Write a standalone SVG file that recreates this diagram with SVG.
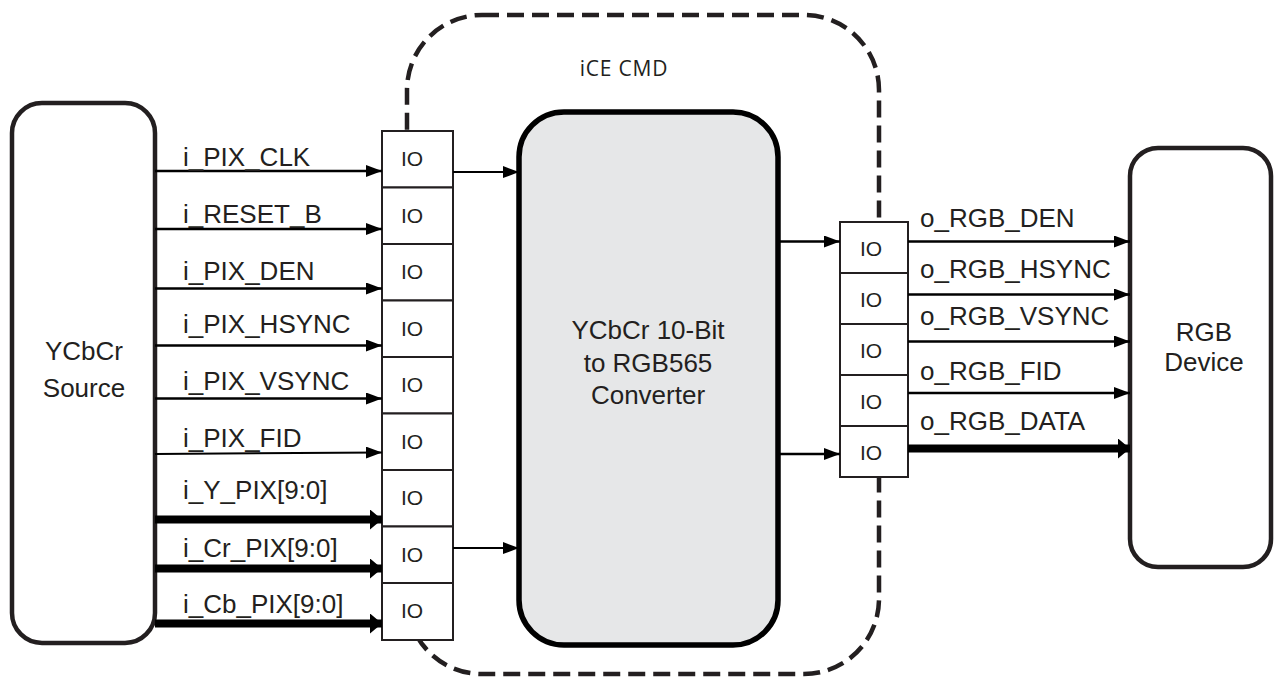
<svg xmlns="http://www.w3.org/2000/svg" width="1275" height="677" viewBox="0 0 1275 677">
<defs>
<style>
.lbl{font-family:"Liberation Sans",Arial,sans-serif;font-size:26px;fill:#231f20}
.io{font-family:"Liberation Sans",Arial,sans-serif;font-size:21px;fill:#231f20}
.blk{font-family:"Liberation Sans",Arial,sans-serif;font-size:26px;fill:#231f20;text-anchor:middle}
.iob{fill:#fff;stroke:#231f20;stroke-width:2}
.thin{stroke:#000;stroke-width:2.6;fill:none;marker-end:url(#ah)}
.thin2{stroke:#000;stroke-width:2;fill:none;marker-end:url(#ah)}
.thick{stroke:#000;stroke-width:8;fill:none;marker-end:url(#ahb)}
</style>
<marker id="ah" markerUnits="userSpaceOnUse" markerWidth="16" markerHeight="12" refX="16" refY="6" orient="auto"><path d="M0,0 L16,6 L0,12 z" fill="#000"/></marker>
<marker id="ahb" markerUnits="userSpaceOnUse" markerWidth="12" markerHeight="20" refX="12" refY="10" orient="auto"><path d="M0,0 L12,10 L0,20 z" fill="#000"/></marker>
</defs>
<rect width="1275" height="677" fill="#fff"/>

<g id="ice-cmd">
<rect x="407" y="15" width="472" height="659" rx="75" ry="75" fill="none" stroke="#231f20" stroke-width="4.5" stroke-dasharray="17 8"/>
<text x="624" y="76" text-anchor="middle" style="font-family:'Open Sans',sans-serif;font-size:21px;letter-spacing:0.8px;fill:#231f20">iCE CMD</text>
</g>

<g id="ycbcr-source">
<rect x="12" y="103" width="143" height="540" rx="30" ry="30" fill="#fff" stroke="#231f20" stroke-width="4.5"/>
<text class="blk" x="84" y="360">YCbCr</text>
<text class="blk" x="84" y="397">Source</text>
</g>

<g id="converter">
<rect x="519" y="112" width="259" height="533" rx="45" ry="45" fill="#e6e7e8" stroke="#000" stroke-width="5.5"/>
<text class="blk" x="648" y="339">YCbCr 10-Bit</text>
<text class="blk" x="648" y="372">to RGB565</text>
<text class="blk" x="648" y="404">Converter</text>
</g>

<g id="rgb-device">
<rect x="1130" y="148" width="141" height="419" rx="28" ry="28" fill="#fff" stroke="#231f20" stroke-width="4.5"/>
<text class="blk" x="1204" y="341">RGB</text>
<text class="blk" x="1204" y="371">Device</text>
</g>

<g id="io-left">
<rect class="iob" x="382" y="131" width="71" height="56.5"/>
<rect class="iob" x="382" y="187.5" width="71" height="56.5"/>
<rect class="iob" x="382" y="244" width="71" height="56.5"/>
<rect class="iob" x="382" y="300.5" width="71" height="56.5"/>
<rect class="iob" x="382" y="357" width="71" height="56.5"/>
<rect class="iob" x="382" y="413.5" width="71" height="56.5"/>
<rect class="iob" x="382" y="470" width="71" height="56.5"/>
<rect class="iob" x="382" y="526.5" width="71" height="56.5"/>
<rect class="iob" x="382" y="583" width="71" height="57"/>
<text class="io" x="401" y="166">IO</text>
<text class="io" x="401" y="223">IO</text>
<text class="io" x="401" y="279">IO</text>
<text class="io" x="401" y="336">IO</text>
<text class="io" x="401" y="392">IO</text>
<text class="io" x="401" y="449">IO</text>
<text class="io" x="401" y="505">IO</text>
<text class="io" x="401" y="562">IO</text>
<text class="io" x="401" y="618">IO</text>
</g>

<g id="io-right">
<rect class="iob" x="840" y="222" width="68" height="51"/>
<rect class="iob" x="840" y="273" width="68" height="51"/>
<rect class="iob" x="840" y="324" width="68" height="51"/>
<rect class="iob" x="840" y="375" width="68" height="51"/>
<rect class="iob" x="840" y="426" width="68" height="51"/>
<text class="io" x="860" y="256">IO</text>
<text class="io" x="860" y="307">IO</text>
<text class="io" x="860" y="358">IO</text>
<text class="io" x="860" y="409">IO</text>
<text class="io" x="860" y="460">IO</text>
</g>

<g id="connectors">
<line class="thin" x1="155" y1="171" x2="382" y2="171"/>
<line class="thin" x1="155" y1="229" x2="382" y2="229"/>
<line class="thin" x1="155" y1="288.5" x2="382" y2="288.5"/>
<line class="thin" x1="155" y1="345.5" x2="382" y2="345.5"/>
<line class="thin" x1="155" y1="398.5" x2="382" y2="398.5"/>
<line class="thin2" x1="155" y1="454" x2="382" y2="452.5"/>
<line class="thick" x1="155" y1="519.5" x2="382" y2="519.5"/>
<line class="thick" x1="155" y1="568.5" x2="382" y2="568.5"/>
<line class="thick" x1="155" y1="623.5" x2="382" y2="623.5"/>
<line class="thin2" x1="453" y1="172" x2="519" y2="172"/>
<line class="thin2" x1="453" y1="548" x2="519" y2="548"/>
<line class="thin" x1="778" y1="241.5" x2="840" y2="241.5"/>
<line class="thin" x1="778" y1="454" x2="840" y2="454"/>
<line class="thin" x1="908" y1="241.5" x2="1130" y2="241.5"/>
<line class="thin" x1="908" y1="294.5" x2="1130" y2="294.5"/>
<line class="thin" x1="908" y1="341.5" x2="1130" y2="341.5"/>
<line class="thin" x1="908" y1="393" x2="1130" y2="393"/>
<line class="thick" x1="908" y1="448.5" x2="1130" y2="448.5"/>
<text class="lbl" x="183" y="166">i_PIX_CLK</text>
<text class="lbl" x="183" y="223">i_RESET_B</text>
<text class="lbl" x="183" y="280">i_PIX_DEN</text>
<text class="lbl" x="183" y="333">i_PIX_HSYNC</text>
<text class="lbl" x="183" y="390">i_PIX_VSYNC</text>
<text class="lbl" x="183" y="447">i_PIX_FID</text>
<text class="lbl" x="183" y="499">i_Y_PIX[9:0]</text>
<text class="lbl" x="183" y="557">i_Cr_PIX[9:0]</text>
<text class="lbl" x="183" y="613">i_Cb_PIX[9:0]</text>
<text class="lbl" x="920" y="227">o_RGB_DEN</text>
<text class="lbl" x="920" y="278">o_RGB_HSYNC</text>
<text class="lbl" x="920" y="325">o_RGB_VSYNC</text>
<text class="lbl" x="920" y="380">o_RGB_FID</text>
<text class="lbl" x="920" y="430">o_RGB_DATA</text>
</g>
</svg>
